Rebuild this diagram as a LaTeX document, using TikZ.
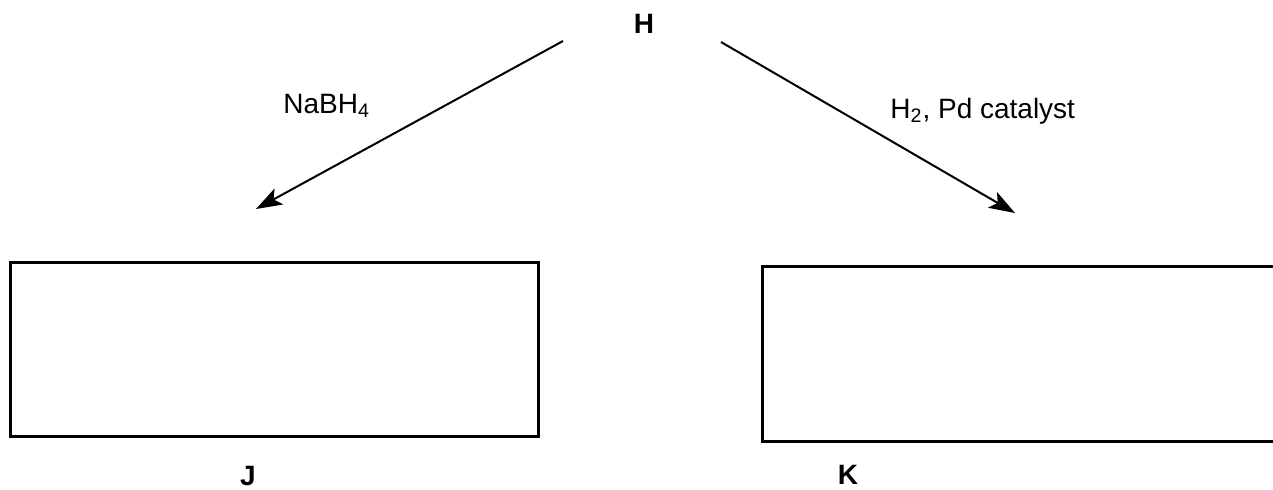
\documentclass[tikz,border=0pt]{standalone}
\usepackage{fontspec}
\setmainfont{Liberation Sans}
\usetikzlibrary{arrows.meta}
\begin{document}
\begin{tikzpicture}[x=0.5pt,y=-0.5pt,
  letter/.style={font=\fontsize{14}{16}\selectfont\bfseries, inner sep=0pt},
  reagent/.style={font=\fontsize{14}{16}\selectfont, inner sep=0pt, anchor=base west},
  rxn/.style={line width=1pt, -{Stealth[length=13pt,width=9pt,inset=3pt]}},
  answerbox/.style={draw, line width=1.5pt, inner sep=0pt}]
\useasboundingbox (0,0) rectangle (1273,489);
\clip (0,0) rectangle (1273,489);
\node[letter] (H) at (644,24) {H};
\coordinate (sL) at (563,41);
\coordinate (tL) at (256,209);
\coordinate (sR) at (721,42);
\coordinate (tR) at (1015,213);
\draw[rxn] (sL) -- (tL);
\draw[rxn] (sR) -- (tR);
\node[reagent] (na) at (283,113) {NaBH\textsubscript{4}};
\node[reagent] (pd) at (890,118) {H\textsubscript{2}, Pd catalyst};
\draw[answerbox] (10,262) rectangle (538,436);
\draw[answerbox] (762,266) rectangle (1300,441);
\node[letter] (J) at (248,476) {J};
\node[letter] (K) at (848,475) {K};
\end{tikzpicture}
\end{document}
